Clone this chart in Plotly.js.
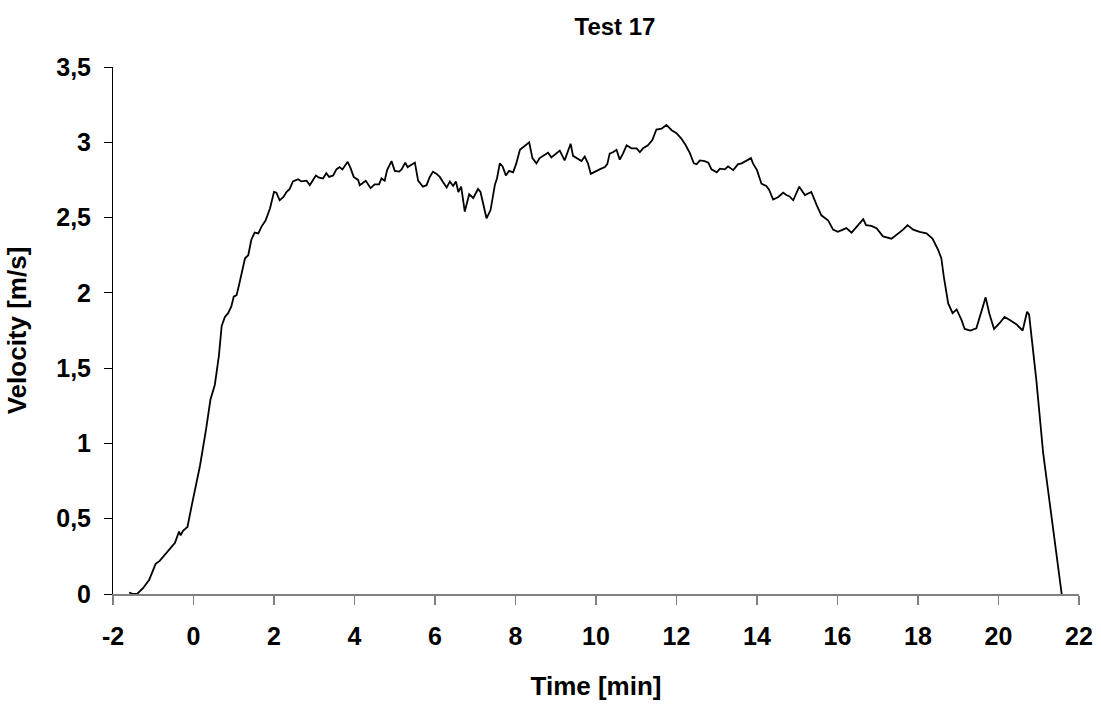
<!DOCTYPE html>
<html>
<head>
<meta charset="utf-8">
<script src="https://cdn.plot.ly/plotly-3.0.1.min.js"></script>
<style>html,body{margin:0;padding:0;background:#fff;}#chart{width:1101px;height:709px;}</style>
</head>
<body>
<div id="chart"></div>
<script>
const timeMin = [-1.60,-1.50,-1.40,-1.25,-1.10,-0.94,-0.84,-0.63,-0.46,-0.36,-0.32,-0.26,-0.15,-0.05,0.06,0.16,0.31,0.42,0.53,0.63,0.70,0.78,0.86,0.94,1.00,1.07,1.13,1.22,1.28,1.36,1.44,1.52,1.61,1.69,1.79,1.90,2.00,2.06,2.14,2.23,2.31,2.39,2.47,2.60,2.68,2.81,2.89,2.97,3.04,3.12,3.22,3.30,3.37,3.47,3.55,3.63,3.70,3.83,3.90,3.98,4.09,4.13,4.28,4.40,4.50,4.61,4.67,4.75,4.81,4.92,5.00,5.11,5.17,5.26,5.32,5.50,5.58,5.70,5.79,5.87,5.95,6.04,6.12,6.19,6.29,6.37,6.45,6.52,6.58,6.65,6.74,6.85,6.95,7.07,7.13,7.28,7.38,7.49,7.54,7.61,7.68,7.76,7.84,7.94,8.02,8.11,8.23,8.34,8.42,8.52,8.60,8.73,8.81,8.89,9.02,9.10,9.22,9.37,9.43,9.56,9.64,9.72,9.80,9.87,9.97,10.09,10.22,10.28,10.34,10.43,10.51,10.59,10.67,10.76,10.88,11.01,11.09,11.17,11.29,11.40,11.50,11.63,11.75,11.88,12.00,12.12,12.23,12.33,12.43,12.50,12.58,12.70,12.79,12.87,13.00,13.08,13.20,13.28,13.41,13.53,13.62,13.74,13.85,13.90,14.00,14.11,14.23,14.30,14.40,14.52,14.65,14.73,14.81,14.90,15.05,15.19,15.35,15.48,15.60,15.77,15.89,16.01,16.22,16.35,16.51,16.64,16.71,16.84,16.97,17.13,17.34,17.47,17.63,17.74,17.88,18.04,18.21,18.36,18.50,18.58,18.64,18.75,18.86,18.96,19.08,19.16,19.30,19.45,19.58,19.68,19.77,19.89,20.03,20.15,20.28,20.45,20.60,20.71,20.76,20.94,21.11,21.27,21.57];
const velocity = [0.01,0.0,0.0,0.04,0.095,0.20,0.22,0.29,0.34,0.415,0.39,0.42,0.445,0.58,0.73,0.85,1.09,1.29,1.39,1.58,1.78,1.84,1.865,1.91,1.975,1.985,2.05,2.15,2.23,2.25,2.355,2.40,2.395,2.44,2.48,2.56,2.67,2.665,2.615,2.635,2.67,2.69,2.74,2.755,2.74,2.745,2.715,2.75,2.78,2.765,2.76,2.795,2.77,2.78,2.82,2.835,2.82,2.87,2.83,2.77,2.75,2.715,2.745,2.695,2.72,2.72,2.76,2.745,2.815,2.875,2.81,2.805,2.82,2.865,2.835,2.865,2.745,2.705,2.715,2.77,2.805,2.79,2.77,2.74,2.70,2.74,2.71,2.74,2.67,2.705,2.54,2.655,2.63,2.69,2.67,2.495,2.55,2.72,2.76,2.86,2.84,2.78,2.81,2.80,2.86,2.95,2.975,3.00,2.895,2.86,2.895,2.915,2.93,2.90,2.925,2.945,2.88,2.99,2.91,2.885,2.875,2.905,2.86,2.79,2.805,2.82,2.835,2.855,2.925,2.935,2.95,2.885,2.925,2.98,2.96,2.96,2.935,2.96,2.98,3.015,3.085,3.09,3.115,3.08,3.06,3.025,2.98,2.93,2.86,2.855,2.88,2.875,2.865,2.82,2.80,2.825,2.82,2.84,2.815,2.855,2.86,2.88,2.895,2.86,2.815,2.725,2.71,2.685,2.62,2.635,2.665,2.65,2.64,2.615,2.705,2.65,2.67,2.585,2.515,2.48,2.42,2.405,2.43,2.40,2.45,2.49,2.45,2.445,2.43,2.375,2.36,2.385,2.42,2.45,2.42,2.405,2.395,2.36,2.285,2.23,2.11,1.93,1.865,1.89,1.82,1.76,1.75,1.765,1.875,1.97,1.865,1.76,1.80,1.84,1.82,1.79,1.75,1.875,1.855,1.42,0.935,0.60,0.0];
const xTickVals = [-2,0,2,4,6,8,10,12,14,16,18,20,22];
const xTickText = ["-2","0","2","4","6","8","10","12","14","16","18","20","22"];
const yTickVals = [0,0.5,1,1.5,2,2.5,3,3.5];
const yTickText = ["0","0,5","1","1,5","2","2,5","3","3,5"];
const chartTitle = "Test 17";
const xTitle = "Time [min]";
const yTitle = "Velocity [m/s]";

const fontFam = '"Liberation Sans", Arial, sans-serif';
const boldFont = (s) => ({family: fontFam, size: s, color: '#000', weight: 'bold'});

const trace = {
  x: timeMin, y: velocity, type: 'scatter', mode: 'lines',
  line: {color: '#000', width: 1.8}, hoverinfo: 'skip'
};
const layout = {
  width: 1101, height: 709,
  paper_bgcolor: '#fff', plot_bgcolor: '#fff',
  margin: {l: 113, r: 22, t: 67, b: 115},
  showlegend: false,
  title: {text: chartTitle, font: boldFont(24), x: 615/1101, xref: 'container', xanchor: 'center', y: 1 - 27/709, yref: 'container', yanchor: 'middle'},
  xaxis: {
    range: [-2, 22], tickmode: 'array', tickvals: xTickVals, ticktext: xTickText,
    showgrid: false, zeroline: false, showline: true, linecolor: '#808080', linewidth: 1.5,
    ticks: 'outside', ticklen: 9, tickcolor: '#808080', tickwidth: 1.5,
    tickfont: boldFont(25), ticklabelstandoff: 10,
    title: {text: xTitle, font: boldFont(26), standoff: 28}, automargin: false
  },
  yaxis: {
    range: [0, 3.5], tickmode: 'array', tickvals: yTickVals, ticktext: yTickText,
    showgrid: false, zeroline: false, showline: true, linecolor: '#000', linewidth: 1,
    ticks: 'outside', ticklen: 8, tickcolor: '#000', tickwidth: 1,
    tickfont: boldFont(25), ticklabelstandoff: 8,
    title: {text: yTitle, font: boldFont(26), standoff: 22}, automargin: false
  }
};
Plotly.newPlot('chart', [trace], layout, {staticPlot: true, displayModeBar: false});
</script>
</body>
</html>
